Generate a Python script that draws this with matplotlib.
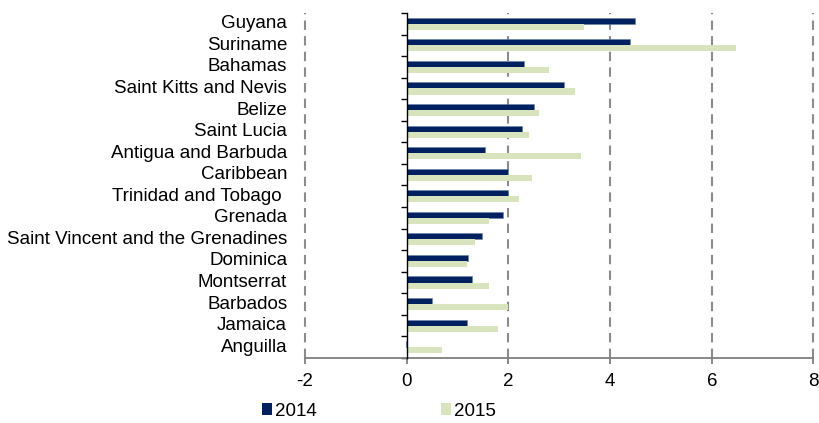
import numpy as np
import matplotlib
matplotlib.use("Agg")
import matplotlib.pyplot as plt
from matplotlib.patches import Patch

plt.rcParams['font.family'] = ['Liberation Sans', 'DejaVu Sans']

countries = ['Guyana', 'Suriname', 'Bahamas', 'Saint Kitts and Nevis', 'Belize',
             'Saint Lucia', 'Antigua and Barbuda', 'Caribbean', 'Trinidad and Tobago ',
             'Grenada', 'Saint Vincent and the Grenadines', 'Dominica', 'Montserrat',
             'Barbados', 'Jamaica', 'Anguilla']
v2014 = [4.49, 4.39, 2.30, 3.10, 2.50, 2.27, 1.54, 2.00, 2.00, 1.90, 1.48, 1.20, 1.29, 0.49, 1.19, -0.02]
v2015 = [3.49, 6.48, 2.80, 3.31, 2.60, 2.40, 3.43, 2.46, 2.20, 1.62, 1.35, 1.18, 1.61, 2.00, 1.80, 0.70]
xticks = [-2, 0, 2, 4, 6, 8]

c14 = '#002060'
c15 = '#D7E4BD'
fs = 13.5

fig = plt.figure(figsize=(8.2, 4.23), dpi=100)
ax = fig.add_axes([305/820, 1-358/423, 508.5/820, 345/423])

y = np.arange(len(countries))
h = 0.28
ax.barh(y - h/2, v2014, height=h, color=c14, edgecolor='#6b7fa8', linewidth=0.4, zorder=3)
ax.barh(y + h/2, v2015, height=h, color=c15, edgecolor='none', zorder=3)

ax.set_xlim(-2, 8)
ax.set_ylim(len(countries) - 0.5, -0.5)

# dashed grid
for xv in xticks:
    if xv != 0:
        ax.axvline(xv, color='#8c8c8c', lw=1.5, ls=(0, (4.5, 3)), zorder=1, clip_on=False)

# y axis sits at zero
ax.spines['left'].set_position(('data', 0))
ax.spines['left'].set_color('black')
ax.spines['left'].set_linewidth(1.0)
ax.spines['left'].set_zorder(4)
ax.spines['right'].set_visible(False)
ax.spines['top'].set_visible(False)
ax.spines['bottom'].set_color('#7f7f7f')
ax.spines['bottom'].set_linewidth(1.3)

ax.set_yticks([])
ax.set_yticks(np.arange(-0.5, len(countries), 1.0), minor=True)
ax.tick_params(axis='y', which='minor', length=4.5, width=1.0, direction='out', color='black')
ax.set_xticks(xticks)
ax.set_xticklabels([str(v) for v in xticks], fontsize=fs)
ax.tick_params(axis='x', length=4.5, width=1.3, color='#7f7f7f', pad=6)

for i, name in enumerate(countries):
    ax.text(-2.35, i, name, ha='right', va='center', fontsize=fs, clip_on=False)

handles = [Patch(facecolor=c14, label='2014'), Patch(facecolor=c15, label='2015')]
fig.legend(handles=handles, loc='center left', bbox_to_anchor=(262/820, 1-411/423),
           ncol=2, frameon=False, fontsize=fs, handlelength=0.55, handleheight=0.55,
           handletextpad=0.15, columnspacing=6.6, borderpad=0, borderaxespad=0)

fig.savefig('out.png', dpi=100)
